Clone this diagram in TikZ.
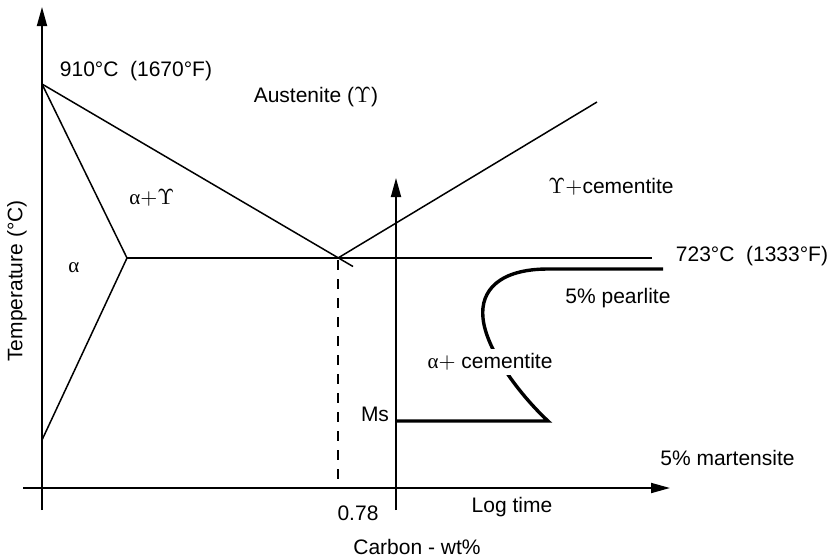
\documentclass[tikz,border=0pt]{standalone}
\usepackage[no-math]{fontspec}
\setmainfont{Liberation Sans}
\newfontfamily\grkfont{Liberation Serif}
\usetikzlibrary{arrows.meta}
\newcommand{\galpha}{{\grkfont α}}
\newcommand{\gups}{$\Upsilon$}
\begin{document}
\begin{tikzpicture}[x=0.5pt,y=-0.5pt,
  lbl/.style={font=\fontsize{10.5}{12}\selectfont, inner sep=1pt},
  thinl/.style={line width=0.75pt},
  axisl/.style={line width=0.9pt, -{Triangle[length=9.5pt,width=5pt]}},
  thickl/.style={line width=1.7pt, line join=miter},
  dashl/.style={line width=0.75pt, dash pattern=on 5pt off 4.5pt}]
\useasboundingbox (0,0) rectangle (832,559);
% coordinates
\coordinate (yb) at (42,510);
\coordinate (yt) at (42,7);
\coordinate (xl) at (23,488);
\coordinate (xr) at (670,488);
\coordinate (tb) at (396,510);
\coordinate (tt) at (396,178);
\coordinate (A) at (42,84);
\coordinate (T) at (127,258);
\coordinate (B) at (42,440);
\coordinate (E) at (338,258);
\coordinate (Eo) at (353,266.5);
\coordinate (G) at (597,102);
\coordinate (H) at (652,258);
\coordinate (Dtop) at (338,260);
\coordinate (Dbot) at (338,482);
\coordinate (P0) at (663,269);
\coordinate (P1) at (548,269);
\coordinate (N) at (483,318);
\coordinate (K) at (548,421);
\coordinate (M) at (396,421);
% axes
\draw[axisl] (yb) -- (yt);
\draw[axisl] (xl) -- (xr);
\draw[axisl] (tb) -- (tt);
% phase diagram lines
\draw[thinl] (A) -- (Eo);
\draw[thinl] (A) -- (T) -- (B);
\draw[thinl] (T) -- (H);
\draw[thinl] (E) -- (G);
\draw[dashl] (Dtop) -- (Dbot);
% TTT curve
\draw[thickl] (P0) -- (P1) .. controls (500,269) and (480,290) .. (N)
  .. controls (486,350) and (520,395) .. (K) -- (M);
% labels
\node[lbl] (t910) at (136,71) {910°C\ \ (1670°F)};
\node[lbl] (taus) at (316,97) {Austenite (\gups)};
\node[lbl] (tag) at (152,198) {\galpha$+$\gups};
\node[lbl] (ta) at (74,268) {\galpha};
\node[lbl, rotate=90] (ttemp) at (17,281) {Temperature (°C)};
\node[lbl] (tgc) at (611,187) {\gups$+$cementite};
\node[lbl] (t723) at (752,256) {723°C\ \ (1333°F)};
\node[lbl] (tpear) at (618,298) {5\% pearlite};
\node[lbl, fill=white, inner sep=2pt] (tac) at (490,362) {\galpha$+$ cementite};
\node[lbl] (tms) at (375,414) {Ms};
\node[lbl, anchor=west] (tmart) at (658,458) {5\% martensite};
\node[lbl] (t078) at (358,513) {0.78};
\node[lbl] (tlog) at (512,507) {Log time};
\node[lbl] (tcarb) at (417,547) {Carbon - wt\%};
\end{tikzpicture}
\end{document}
